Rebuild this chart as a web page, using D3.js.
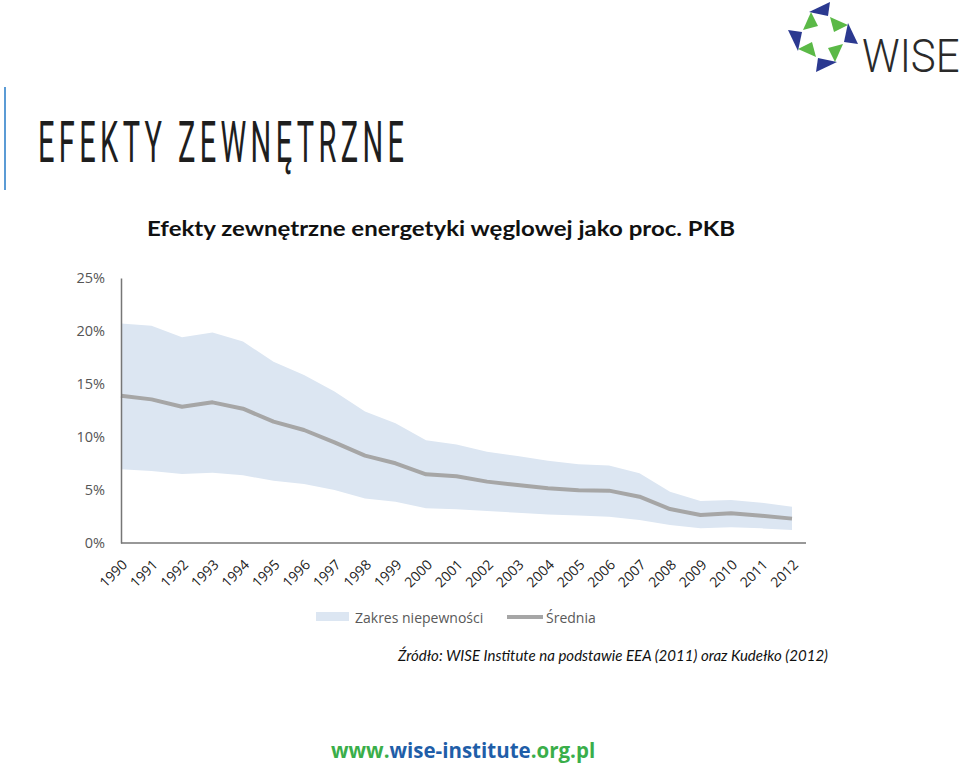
<!DOCTYPE html>
<html><head><meta charset="utf-8">
<script src="https://cdn.jsdelivr.net/npm/d3@7"></script>
<style>html,body{margin:0;padding:0;background:#fff;}svg{display:block;}</style>
</head><body>
<svg id="c" width="960" height="765"></svg>
<script>
const years = ["1990","1991","1992","1993","1994","1995","1996","1997","1998","1999","2000","2001","2002","2003","2004","2005","2006","2007","2008","2009","2010","2011","2012"];
const srednia = [13.9,13.55,12.86,13.27,12.67,11.45,10.66,9.5,8.24,7.52,6.48,6.3,5.79,5.47,5.16,4.97,4.94,4.37,3.2,2.64,2.8,2.58,2.3];
const gorna   = [20.7,20.5,19.4,19.85,19.0,17.1,15.85,14.3,12.4,11.3,9.7,9.3,8.6,8.2,7.77,7.42,7.3,6.57,4.84,3.96,4.06,3.8,3.42];
const dolna   = [6.95,6.8,6.5,6.63,6.38,5.88,5.57,5.0,4.2,3.9,3.27,3.19,3.02,2.86,2.7,2.6,2.48,2.17,1.7,1.38,1.48,1.38,1.23];
const yTicks = [0,5,10,15,20,25];
const legendLabels = ["Zakres niepewności","Średnia"];
const urlParts = ["www.","wise-institute",".org.pl"];

const svg = d3.select("#c");
const x = d3.scalePoint().domain(years).range([121, 792]);
const y = d3.scaleLinear().domain([0,25]).range([543, 278]);
const font = "'Open Sans', 'Noto Sans', sans-serif";

// left accent line
svg.append("line").attr("x1",5).attr("x2",5).attr("y1",87).attr("y2",190)
  .attr("stroke","#5b9bd5").attr("stroke-width",2);

// main heading (condensed)
svg.append("g").attr("transform","translate(38,162) scale(0.5,1)")
  .append("text").attr("x",0).attr("y",0)
  .attr("font-family","Roboto, sans-serif").attr("font-size",58).attr("font-weight",400)
  .attr("fill","#1e1e1e").attr("textLength",366/0.5).attr("lengthAdjust","spacing")
  .text("EFEKTY ZEWNĘTRZNE");

// chart title
svg.append("text").attr("x",147).attr("y",236)
  .attr("font-family","Lato, sans-serif").attr("font-weight",700).attr("font-size",21)
  .attr("fill","#111").attr("textLength",588).attr("lengthAdjust","spacingAndGlyphs")
  .text("Efekty zewnętrzne energetyki węglowej jako proc. PKB");

// data
const idx = d3.range(years.length);
const area = d3.area().x(i=>x(years[i])).y0(i=>y(dolna[i])).y1(i=>y(gorna[i]));
svg.append("path").datum(idx).attr("d",area).attr("fill","#dce6f2");
const line = d3.line().x(i=>x(years[i])).y(i=>y(srednia[i]));
svg.append("path").datum(idx).attr("d",line).attr("fill","none")
  .attr("stroke","#a6a6a6").attr("stroke-width",4).attr("stroke-linejoin","round");

// y axis
const yAx = svg.append("g").attr("transform","translate(121,0)")
  .call(d3.axisLeft(y).tickValues(yTicks).tickSize(0).tickPadding(16).tickFormat(d=>d+"%"));
yAx.select(".domain").attr("stroke","#767676").attr("stroke-width",1.5);
yAx.selectAll("text").attr("font-family",font).attr("font-size",14.5).attr("fill","#555");

// x axis
const xAx = svg.append("g").attr("transform","translate(0,543)")
  .call(d3.axisBottom(x).tickSize(0));
xAx.select(".domain").remove();
svg.append("line").attr("x1",121).attr("x2",806).attr("y1",543).attr("y2",543)
  .attr("stroke","#767676").attr("stroke-width",1.5);
xAx.selectAll("text").attr("font-family",font).attr("font-size",14).attr("fill","#222")
  .attr("text-anchor","end").attr("dy",null).attr("y",null)
  .attr("transform","translate(4,20) rotate(-45)").attr("dominant-baseline","middle");

// legend
const lg = svg.append("g");
lg.append("rect").attr("x",316).attr("y",612).attr("width",33).attr("height",9).attr("fill","#dce6f2");
lg.append("text").attr("x",355).attr("y",623).attr("font-family",font).attr("font-size",14)
  .attr("fill","#595959").text(legendLabels[0]);
lg.append("line").attr("x1",507).attr("x2",543).attr("y1",617).attr("y2",617)
  .attr("stroke","#a6a6a6").attr("stroke-width",4);
lg.append("text").attr("x",546).attr("y",623).attr("font-family",font).attr("font-size",14)
  .attr("fill","#595959").text(legendLabels[1]);

// source
svg.append("text").attr("x",398).attr("y",661).attr("font-family","Lato, sans-serif")
  .attr("font-style","italic").attr("font-size",15).attr("fill","#111")
  .attr("textLength",430).attr("lengthAdjust","spacingAndGlyphs")
  .text("Źródło: WISE Institute na podstawie EEA (2011) oraz Kudełko (2012)");

// footer url
const urlColors = ["#3aae4a","#1f5ea8","#3aae4a"];
let ux = 331;
urlParts.forEach((p,i)=>{
  const t = svg.append("text").attr("x",ux).attr("y",758).attr("font-family",font)
    .attr("font-weight",700).attr("font-size",20.5).attr("fill",urlColors[i]).text(p);
  ux += t.node().getComputedTextLength();
});

// logo
const logo = svg.append("g").attr("transform","translate(823,37)");
const blueTri = [[-14,-25],[7,-35],[5,-21]];
const greenTri = [[7,-20],[25,-12],[11,-5]];
[0,90,180,270].forEach(a=>{
  const g = logo.append("g").attr("transform",`rotate(${a})`);
  g.append("path").attr("d","M"+blueTri.join("L")+"Z").attr("fill","#2b3990");
  g.append("path").attr("d","M"+greenTri.join("L")+"Z").attr("fill","#5bb947");
});
svg.append("g").attr("transform","translate(862,72) scale(1,1.12)")
  .append("text").attr("x",0).attr("y",0).attr("font-family","Roboto, sans-serif")
  .attr("font-weight",300).attr("font-size",42).attr("fill","#2a2a2a").text("WISE");
</script>
</body></html>
